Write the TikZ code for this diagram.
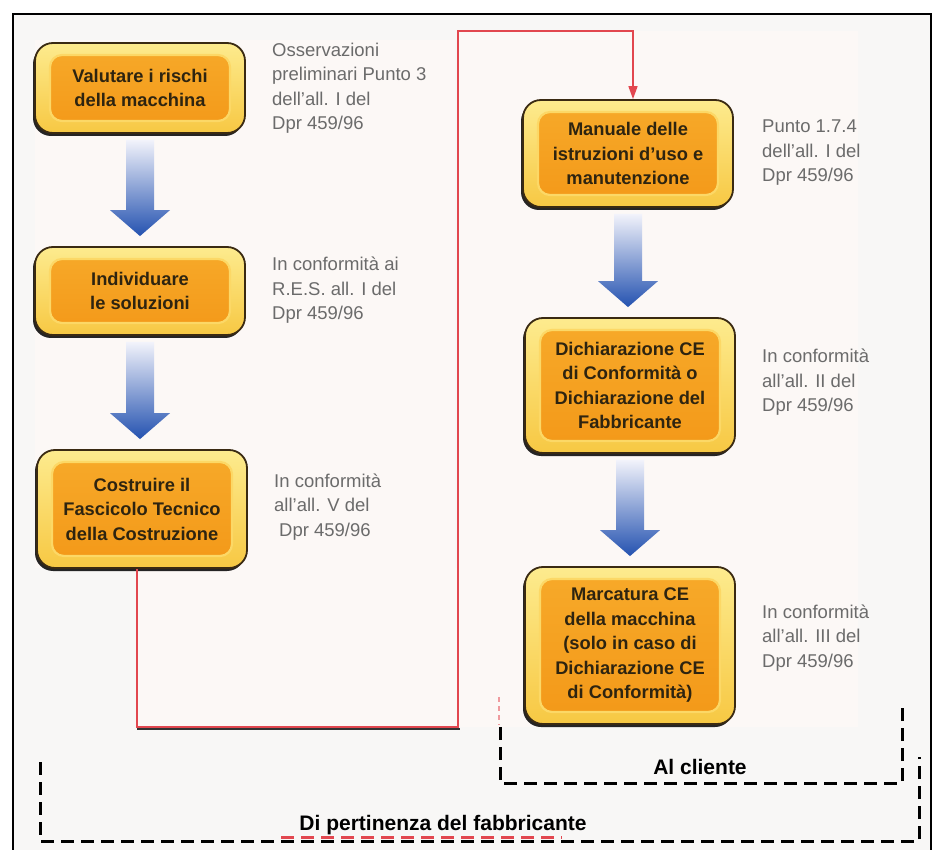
\documentclass[tikz,border=0pt]{standalone}
\usepackage{fontspec}
\setmainfont{Liberation Sans}
\usetikzlibrary{arrows.meta,shadows,calc}
\definecolor{boxedge}{HTML}{3A2A12}
\definecolor{ytop}{HTML}{FDEB8E}
\definecolor{ybot}{HTML}{F7C843}
\definecolor{otop}{HTML}{F7AA2A}
\definecolor{obot}{HTML}{F39818}
\definecolor{orngedge}{HTML}{FCD866}
\definecolor{boxtext}{HTML}{2E2410}
\definecolor{sidetext}{HTML}{6B6B6B}
\definecolor{redline}{HTML}{E2474F}
\definecolor{arrtop}{HTML}{F2F3FB}
\definecolor{arrmid}{HTML}{8FA6E0}
\definecolor{arrbot}{HTML}{2452B0}
\definecolor{panel}{HTML}{FCF8F6}
\definecolor{paper}{HTML}{F8F7F6}
\tikzset{
  stepbox/.style={rounded corners=18pt, draw=boxedge, line width=1.8pt,
    top color=ytop, bottom color=ybot, minimum width=210pt, inner sep=0pt,
    align=center, text=boxtext, font=\fontsize{18.3}{24.5}\selectfont\bfseries,
    drop shadow={shadow xshift=-2pt, shadow yshift=-3pt, fill=black, opacity=0.85},
    path picture={\draw[top color=otop, bottom color=obot, draw=orngedge, line width=2.2pt, rounded corners=12pt]
      ([xshift=15pt,yshift=-12pt]path picture bounding box.north west) rectangle
      ([xshift=-15pt,yshift=12pt]path picture bounding box.south east);}},
  sidenote/.style={anchor=base west, align=left, inner sep=0pt, text=sidetext,
    font=\fontsize{18.5}{24.5}\selectfont},
  flowarr/.style={top color=arrtop, middle color=arrmid, bottom color=arrbot},
  redconn/.style={draw=redline, line width=1.6pt, -{Triangle[width=9pt,length=13pt]}},
  dashbr/.style={line width=3pt, dash pattern=on 13pt off 7pt},
  lbl/.style={anchor=base, inner sep=0pt, text=black, font=\fontsize{21}{25}\selectfont\bfseries}
}
\newcommand\flowarrow[2]{%
  \path[flowarr] let \p1=(#1.south), \p2=(#2.north) in
    (\x1-14pt,\y1-6pt) -- (\x1-14pt,\y2+36pt) -- (\x1-30pt,\y2+36pt) --
    (\x1,\y2+10pt) -- (\x1+30pt,\y2+36pt) -- (\x1+14pt,\y2+36pt) --
    (\x1+14pt,\y1-6pt) -- cycle;}
\begin{document}
\begin{tikzpicture}[x=1pt,y=-1pt]
\useasboundingbox (0,0) rectangle (935,850);
\fill[white] (0,0) rectangle (935,850);
\fill[paper] (13,14) rectangle (931,850);
% panels
\fill[panel] (35,40) rectangle (455,568);
\fill[panel] (137,568) rectangle (458,727);
\fill[panel] (458,31) rectangle (858,727);
% frame
\draw[line width=2pt] (13,850) -- (13,14) -- (931,14) -- (931,850);

% boxes
\node[stepbox, minimum height=90pt]  (b1) at (140,88)    {Valutare i rischi\\della macchina};
\node[stepbox, minimum height=88pt]  (b2) at (140,291)   {Individuare\\le soluzioni};
\node[stepbox, minimum height=118pt] (b3) at (142,509)   {Costruire il\\Fascicolo Tecnico\\della Costruzione};
\node[stepbox, minimum height=107pt] (b4) at (628,153.5) {Manuale delle\\istruzioni d’uso e\\manutenzione};
\node[stepbox, minimum height=135pt] (b5) at (630,385.5) {Dichiarazione CE\\di Conformità o\\Dichiarazione del\\Fabbricante};
\node[stepbox, minimum height=157pt] (b6) at (630,645.5) {Marcatura CE\\della macchina\\(solo in caso di\\Dichiarazione CE\\di Conformità)};

% blue arrows
\flowarrow{b1}{b2}
\flowarrow{b2}{b3}
\flowarrow{b4}{b5}
\flowarrow{b5}{b6}

% side notes (anchored at the baseline of their last line)
\node[sidenote] (s1) at (272,130) {Osservazioni\\preliminari Punto 3\\dell’all. I del\\Dpr 459/96};
\node[sidenote] (s2) at (272,320) {In conformità ai\\R.E.S. all. I del\\Dpr 459/96};
\node[sidenote] (s3) at (274,536) {In conformità\\all’all. V del\\\hspace*{5pt}Dpr 459/96};
\node[sidenote] (s4) at (762,182) {Punto 1.7.4\\dell’all. I del\\Dpr 459/96};
\node[sidenote] (s5) at (762,412) {In conformità\\all’all. II del\\Dpr 459/96};
\node[sidenote] (s6) at (762,667) {In conformità\\all’all. III del\\Dpr 459/96};

% red connector
\coordinate (rA) at (137,727);
\coordinate (rB) at (458,727);
\coordinate (rC) at (458,31);
\coordinate (rD) at (633,31);
\draw[line width=1.2pt, black!80] (137,729) -- (460,729);
\draw[redconn] (b3.south -| rA) -- (rA) -- (rB) -- (rC) -- (rD) -- (rD |- b4.north);

% dashed brackets
\draw[redline!55, line width=1.2pt, dash pattern=on 5pt off 4pt] (499,697) -- (499,725);
\draw[dashbr] (500,727) -- (500,783) -- (902,783) -- (902,705);
\draw[dashbr] (40,762) -- (40,841) -- (919,841) -- (919,757);
\draw[redline, line width=2.2pt, dash pattern=on 13pt off 7pt] (281,837.5) -- (562,837.5);

\node[lbl] (lc) at (700,774) {Al cliente};
\node[lbl] (lf) at (443,830) {Di pertinenza del fabbricante};
\end{tikzpicture}
\end{document}
